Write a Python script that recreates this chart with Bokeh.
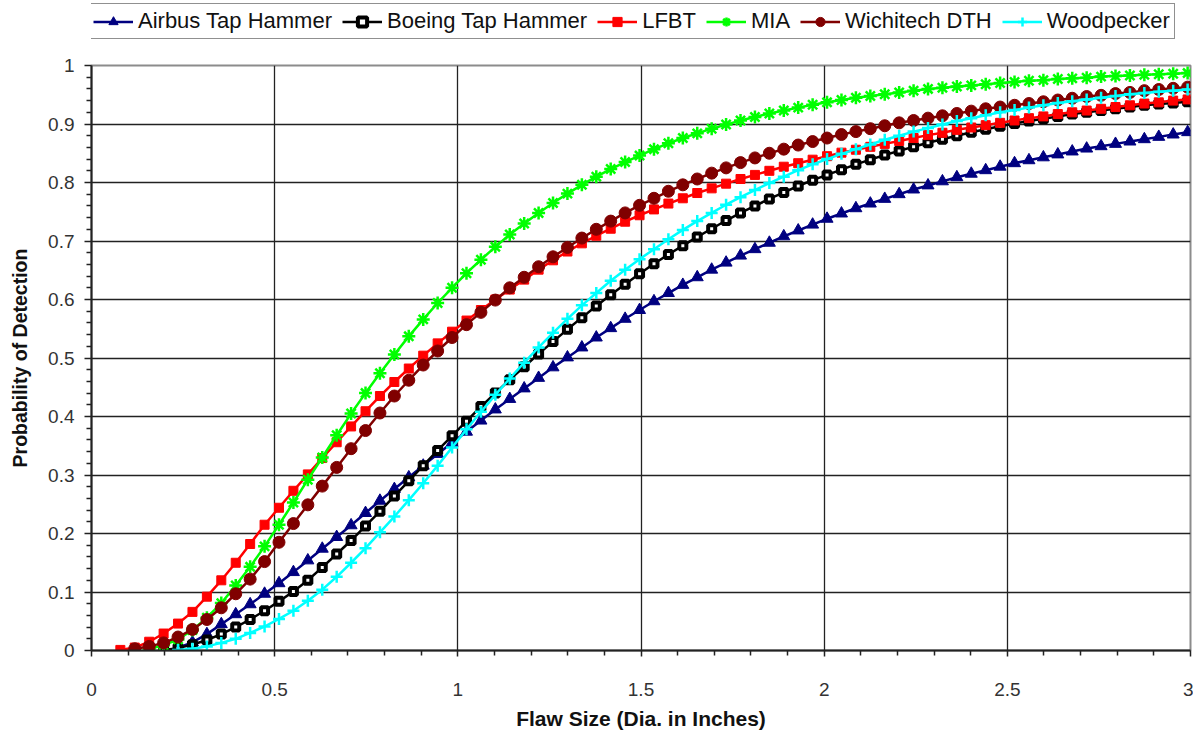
from bokeh.plotting import figure
from bokeh.layouts import column
from bokeh.models import (ColumnDataSource, FixedTicker, CustomJSTickFormatter,
                          Legend, LegendItem, Range1d)
from bokeh.embed import file_html
from bokeh.resources import INLINE

MM_PER_INCH = 25.4

airbus_start_mm = 6
airbus_pod = [0.005, 0.014, 0.028, 0.045, 0.062, 0.079, 0.097, 0.115, 0.134, 0.154,
              0.174, 0.194, 0.214, 0.235, 0.256, 0.276, 0.296, 0.316, 0.336, 0.355,
              0.374, 0.393, 0.412, 0.430, 0.448, 0.466, 0.484, 0.501, 0.518, 0.535,
              0.551, 0.567, 0.582, 0.597, 0.611, 0.625, 0.638, 0.651, 0.663, 0.675,
              0.686, 0.697, 0.708, 0.718, 0.728, 0.738, 0.747, 0.756, 0.764, 0.772,
              0.780, 0.788, 0.795, 0.802, 0.809, 0.815, 0.821, 0.827, 0.833, 0.838,
              0.843, 0.848, 0.853, 0.858, 0.862, 0.866, 0.870, 0.874, 0.878, 0.882,
              0.886]

boeing_start_mm = 5
boeing_pod = [0.001, 0.004, 0.010, 0.018, 0.028, 0.040, 0.053, 0.068, 0.084, 0.101,
              0.120, 0.142, 0.165, 0.188, 0.213, 0.238, 0.264, 0.290, 0.316, 0.342,
              0.367, 0.392, 0.417, 0.440, 0.463, 0.485, 0.507, 0.528, 0.549, 0.569,
              0.589, 0.608, 0.626, 0.644, 0.661, 0.677, 0.692, 0.707, 0.721, 0.735,
              0.748, 0.760, 0.772, 0.783, 0.794, 0.804, 0.813, 0.822, 0.831, 0.839,
              0.847, 0.854, 0.861, 0.868, 0.874, 0.880, 0.886, 0.891, 0.896, 0.901,
              0.905, 0.909, 0.913, 0.917, 0.920, 0.923, 0.926, 0.929, 0.932, 0.934,
              0.936, 0.938]

lfbt_start_mm = 2
lfbt_pod = [0.001, 0.005, 0.015, 0.029, 0.046, 0.066, 0.092, 0.120, 0.150, 0.182,
            0.215, 0.244, 0.273, 0.301, 0.329, 0.356, 0.383, 0.409, 0.435, 0.459,
            0.482, 0.504, 0.525, 0.545, 0.564, 0.582, 0.600, 0.617, 0.634, 0.651,
            0.667, 0.682, 0.696, 0.709, 0.721, 0.733, 0.744, 0.754, 0.764, 0.773,
            0.782, 0.790, 0.798, 0.806, 0.813, 0.820, 0.827, 0.833, 0.839, 0.845,
            0.851, 0.856, 0.861, 0.866, 0.871, 0.876, 0.881, 0.885, 0.890, 0.894,
            0.898, 0.902, 0.906, 0.910, 0.913, 0.917, 0.920, 0.923, 0.926, 0.929,
            0.932, 0.935, 0.937, 0.940, 0.942]

mia_start_mm = 4
mia_pod = [0.003, 0.009, 0.019, 0.035, 0.056, 0.081, 0.111, 0.143, 0.178, 0.215,
           0.253, 0.292, 0.330, 0.368, 0.405, 0.440, 0.474, 0.506, 0.537, 0.566,
           0.594, 0.620, 0.645, 0.668, 0.690, 0.711, 0.730, 0.748, 0.765, 0.781,
           0.796, 0.810, 0.823, 0.835, 0.846, 0.857, 0.867, 0.876, 0.884, 0.892,
           0.899, 0.906, 0.912, 0.918, 0.923, 0.928, 0.933, 0.937, 0.941, 0.945,
           0.948, 0.951, 0.954, 0.957, 0.960, 0.962, 0.964, 0.966, 0.968, 0.970,
           0.972, 0.974, 0.975, 0.977, 0.978, 0.979, 0.981, 0.982, 0.983, 0.984,
           0.985, 0.986, 0.987]

wichitech_start_mm = 3
wichitech_pod = [0.003, 0.007, 0.013, 0.023, 0.036, 0.053, 0.073, 0.097, 0.122, 0.152,
                 0.185, 0.217, 0.249, 0.281, 0.313, 0.345, 0.376, 0.406, 0.435, 0.462,
                 0.488, 0.512, 0.535, 0.557, 0.578, 0.599, 0.620, 0.638, 0.656, 0.673,
                 0.689, 0.705, 0.720, 0.734, 0.748, 0.761, 0.773, 0.785, 0.796, 0.806,
                 0.816, 0.825, 0.834, 0.842, 0.850, 0.857, 0.864, 0.870, 0.876, 0.882,
                 0.887, 0.892, 0.897, 0.902, 0.906, 0.910, 0.914, 0.918, 0.922, 0.926,
                 0.929, 0.932, 0.935, 0.938, 0.941, 0.944, 0.947, 0.949, 0.952, 0.954,
                 0.957, 0.959, 0.961, 0.963]

woodpecker_start_mm = 6
woodpecker_pod = [0.001, 0.003, 0.007, 0.013, 0.020, 0.030, 0.041, 0.054, 0.068, 0.085,
                  0.104, 0.126, 0.150, 0.175, 0.202, 0.229, 0.257, 0.286, 0.316, 0.347,
                  0.378, 0.408, 0.437, 0.465, 0.492, 0.518, 0.543, 0.567, 0.590, 0.611,
                  0.632, 0.651, 0.669, 0.686, 0.703, 0.719, 0.734, 0.748, 0.762, 0.775,
                  0.787, 0.799, 0.810, 0.821, 0.831, 0.840, 0.849, 0.857, 0.865, 0.873,
                  0.880, 0.887, 0.893, 0.899, 0.905, 0.910, 0.915, 0.920, 0.924, 0.928,
                  0.932, 0.936, 0.939, 0.942, 0.945, 0.948, 0.951, 0.953, 0.955, 0.957,
                  0.959]

x_ticks = [0, 0.5, 1, 1.5, 2, 2.5, 3]
x_minor = [0.1, 0.2, 0.3, 0.4, 0.6, 0.7, 0.8, 0.9, 1.1, 1.2, 1.3, 1.4, 1.6, 1.7, 1.8,
           1.9, 2.1, 2.2, 2.3, 2.4, 2.6, 2.7, 2.8, 2.9]
y_ticks = [0, 0.1, 0.2, 0.3, 0.4, 0.5, 0.6, 0.7, 0.8, 0.9, 1]
y_minor = [0.02, 0.04, 0.06, 0.08, 0.12, 0.14, 0.16, 0.18, 0.22, 0.24, 0.26, 0.28,
           0.32, 0.34, 0.36, 0.38, 0.42, 0.44, 0.46, 0.48, 0.52, 0.54, 0.56, 0.58,
           0.62, 0.64, 0.66, 0.68, 0.72, 0.74, 0.76, 0.78, 0.82, 0.84, 0.86, 0.88,
           0.92, 0.94, 0.96, 0.98]

# name, start mm, values, colour, marker, size, fill, marker line width
series = [
    ("Airbus Tap Hammer", airbus_start_mm, airbus_pod, "#000080", "triangle", 12, "#000080", 1),
    ("Boeing Tap Hammer", boeing_start_mm, boeing_pod, "#000000", "square", 7, "#ffffff", 4),
    ("LFBT", lfbt_start_mm, lfbt_pod, "#ff0000", "square", 9, "#ff0000", 1),
    ("MIA", mia_start_mm, mia_pod, "#00ff00", "asterisk", 13, "#00ff00", 2.5),
    ("Wichitech DTH", wichitech_start_mm, wichitech_pod, "#800000", "circle", 12, "#800000", 1),
    ("Woodpecker", woodpecker_start_mm, woodpecker_pod, "#00ffff", "cross", 12, "#00ffff", 2.5),
]

FONT = "Liberation Sans"
LEGEND_H = 45

# ---------------- legend strip (its ranges lie far from the data, so only the legend shows) ----
lf = figure(width=1193, height=LEGEND_H, x_range=Range1d(100, 101), y_range=Range1d(100, 101),
            output_backend="svg", toolbar_location=None, x_axis_location=None,
            y_axis_location=None, min_border=0)
lf.xgrid.visible = False
lf.ygrid.visible = False
lf.outline_line_color = None
lf.background_fill_color = "white"
lf.border_fill_color = "white"

# ---------------- main chart -------------
p = figure(width=1193, height=733 - LEGEND_H, x_range=Range1d(0, 3), y_range=Range1d(0, 1),
           output_backend="svg", toolbar_location=None,
           min_border_left=91, min_border_right=3, min_border_top=65 - LEGEND_H,
           min_border_bottom=83)
p.background_fill_color = "white"
p.border_fill_color = "white"
p.outline_line_color = "#8c8c8c"
p.outline_line_width = 2

fmt = CustomJSTickFormatter(code="return String(Math.round(tick*10)/10);")
for ax, ticks, minor in ((p.xaxis[0], x_ticks, x_minor), (p.yaxis[0], y_ticks, y_minor)):
    ax.ticker = FixedTicker(ticks=ticks, minor_ticks=minor)
    ax.formatter = fmt
    ax.axis_line_color = "#222222"
    ax.axis_line_width = 2
    ax.major_tick_line_color = "#222222"
    ax.minor_tick_line_color = "#222222"
    ax.major_tick_line_width = 1.5
    ax.minor_tick_line_width = 1.5
    ax.major_tick_in = 0
    ax.minor_tick_in = 0
    ax.major_label_text_font = FONT
    ax.major_label_text_font_size = "19px"
    ax.major_label_text_color = "#333333"
    ax.axis_label_text_font = FONT
    ax.axis_label_text_font_style = "bold"
    ax.axis_label_text_color = "#111111"

p.xaxis.major_tick_out = 6
p.xaxis.minor_tick_out = 5
p.yaxis.major_tick_out = 7
p.yaxis.minor_tick_out = 5
p.xaxis.major_label_standoff = 26
p.yaxis.major_label_standoff = 10
p.xaxis.axis_label = "Flaw Size (Dia. in Inches)"
p.yaxis.axis_label = "Probability of Detection"
p.xaxis.axis_label_text_font_size = "21px"
p.yaxis.axis_label_text_font_size = "19.5px"
p.xaxis.axis_label_standoff = 8
p.yaxis.axis_label_standoff = 14

p.xgrid.grid_line_color = "#222222"
p.ygrid.grid_line_color = "#222222"
p.xgrid.grid_line_width = 1.3
p.ygrid.grid_line_width = 1.3

items = []
for name, start, vals, color, marker, size, fill, mlw in series:
    xs = [(start + i) / MM_PER_INCH for i in range(len(vals))]
    src = ColumnDataSource(dict(x=xs, y=vals))
    p.line("x", "y", source=src, line_color=color, line_width=2.5)
    p.scatter("x", "y", source=src, marker=marker, size=size, line_color=color,
              fill_color=fill, line_width=mlw)
    # legend swatches: same source and style, drawn in the legend strip (outside its view)
    lr = lf.line("x", "y", source=src, line_color=color, line_width=2.5)
    sr = lf.scatter("x", "y", source=src, marker=marker, size=size, line_color=color,
                    fill_color=fill, line_width=mlw)
    items.append(LegendItem(label=name, renderers=[lr, sr]))

legend = Legend(items=items, orientation="horizontal", location=(-3, 6), margin=0,
                padding=4, spacing=10, glyph_width=40, glyph_height=23, label_height=23,
                label_standoff=5, label_text_font=FONT, label_text_font_size="22px",
                label_text_color="#111111", border_line_color="#222222",
                border_line_width=1.5, background_fill_color="white", background_fill_alpha=1)
lf.add_layout(legend, "center")

layout = column(lf, p, spacing=0)
open("out.html", "w").write(file_html(layout, INLINE))
